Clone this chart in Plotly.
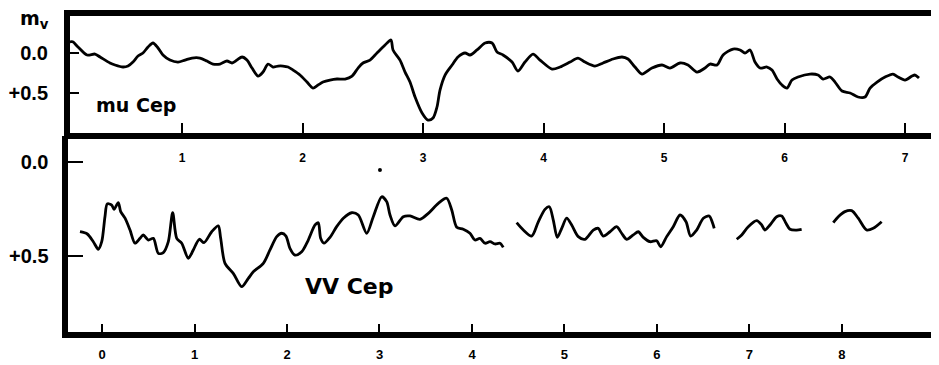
import plotly.graph_objects as go

# ---- mu Cep (top panel): x in top-axis units, y = m_v offset ----
mu_x = [0.07, 0.093, 0.137, 0.212, 0.278, 0.320, 0.402, 0.444, 0.510, 0.552, 0.593, 0.635, 0.676, 0.718,
        0.759, 0.801, 0.842, 0.900, 0.967, 1.025, 1.083, 1.149, 1.207, 1.257, 1.315, 1.373, 1.415, 1.456,
        1.498, 1.539, 1.581, 1.631, 1.672, 1.714, 1.755, 1.797, 1.838, 1.880, 1.921, 1.979, 2.037, 2.087,
        2.129, 2.170, 2.228, 2.286, 2.353, 2.411, 2.461, 2.502, 2.560, 2.618, 2.685, 2.734, 2.751, 2.809,
        2.851, 2.892, 2.934, 2.992, 3.041, 3.083, 3.116, 3.141, 3.183, 3.241, 3.290, 3.349, 3.390, 3.448,
        3.515, 3.573, 3.614, 3.664, 3.739, 3.788, 3.846, 3.913, 3.971, 4.071, 4.137, 4.220, 4.286, 4.344,
        4.427, 4.494, 4.577, 4.651, 4.701, 4.759, 4.817, 4.900, 4.983, 5.049, 5.133, 5.199, 5.274, 5.340,
        5.382, 5.440, 5.490, 5.573, 5.631, 5.672, 5.714, 5.755, 5.797, 5.855, 5.896, 5.938, 5.979, 6.021,
        6.062, 6.112, 6.212, 6.278, 6.320, 6.378, 6.419, 6.477, 6.544, 6.610, 6.668, 6.710, 6.768, 6.834,
        6.900, 6.942, 7.000, 7.058, 7.083, 7.116]
mu_y = [-0.14, -0.14, -0.075, 0.025, 0.013, 0.05, 0.125, 0.15, 0.175, 0.163, 0.113, 0.038, 0.0, -0.075,
        -0.125, -0.063, 0.025, 0.088, 0.113, 0.088, 0.063, 0.063, 0.1, 0.138, 0.138, 0.1, 0.125, 0.088,
        0.05, 0.088, 0.188, 0.288, 0.238, 0.138, 0.175, 0.163, 0.163, 0.175, 0.213, 0.275, 0.363, 0.438,
        0.4, 0.363, 0.338, 0.325, 0.325, 0.288, 0.188, 0.125, 0.088, 0.0, -0.1, -0.163, -0.038, 0.088,
        0.238, 0.363, 0.55, 0.75, 0.838, 0.813, 0.675, 0.463, 0.275, 0.15, 0.05, 0.0, 0.025, -0.038,
        -0.125, -0.125, -0.013, 0.025, 0.113, 0.225, 0.113, 0.013, 0.088, 0.2, 0.175, 0.113, 0.063, 0.113,
        0.163, 0.125, 0.075, 0.05, 0.075, 0.175, 0.263, 0.188, 0.15, 0.188, 0.125, 0.15, 0.238, 0.188,
        0.138, 0.15, 0.025, -0.05, -0.038, 0.0, -0.038, 0.113, 0.188, 0.175, 0.213, 0.325, 0.4, 0.438,
        0.338, 0.3, 0.263, 0.275, 0.325, 0.3, 0.363, 0.475, 0.5, 0.55, 0.55, 0.438, 0.363, 0.3,
        0.263, 0.3, 0.338, 0.288, 0.275, 0.313]

# ---- VV Cep (bottom panel): segments separated by None ----
vv_x = [-0.238, -0.159, -0.094, -0.040, -0.003, 0.032, 0.057, 0.105, 0.130, 0.176, 0.202, 0.249, 0.303,
        0.357, 0.411, 0.446, 0.501, 0.555, 0.609, 0.663, 0.717, 0.764, 0.808, 0.862, 0.933, 0.987, 1.052,
        1.103, 1.186, 1.257, 1.283, 1.330, 1.419, 1.510, 1.582, 1.636, 1.744, 1.816, 1.889, 1.943, 1.989,
        2.032, 2.086, 2.159, 2.230, 2.303, 2.338, 2.364, 2.400, 2.465, 2.537, 2.609, 2.699, 2.771, 2.862,
        2.933, 3.024, 3.078, 3.114, 3.168, 3.257, 3.330, 3.438, 3.528, 3.636, 3.726, 3.781, 3.835, 3.906,
        3.978, 4.032, 4.086, 4.141, 4.195, 4.249, 4.303, 4.338,
        None,
        4.483, 4.555, 4.645, 4.717, 4.789, 4.836, 4.879, 4.922, 4.970, 5.024, 5.078, 5.149, 5.222, 5.311,
        5.365, 5.419, 5.492, 5.564, 5.618, 5.672, 5.744, 5.798, 5.852, 5.924, 5.997, 6.040, 6.105, 6.176,
        6.249, 6.314, 6.364, 6.429, 6.501, 6.565, 6.602, 6.619,
        None,
        6.862, 6.916, 6.987, 7.078, 7.132, 7.168, 7.222, 7.294, 7.348, 7.395, 7.438, 7.510, 7.564,
        None,
        7.906, 7.960, 8.032, 8.105, 8.176, 8.267, 8.338, 8.429]
vv_y = [0.371, 0.383, 0.424, 0.464, 0.424, 0.291, 0.223, 0.229, 0.252, 0.216, 0.264, 0.299, 0.362,
        0.432, 0.406, 0.388, 0.415, 0.406, 0.486, 0.482, 0.424, 0.270, 0.406, 0.432, 0.512, 0.468, 0.411,
        0.429, 0.371, 0.340, 0.406, 0.539, 0.592, 0.663, 0.619, 0.584, 0.539, 0.468, 0.397, 0.379, 0.394,
        0.459, 0.495, 0.477, 0.415, 0.335, 0.323, 0.406, 0.432, 0.401, 0.344, 0.299, 0.270, 0.282, 0.379,
        0.291, 0.185, 0.211, 0.282, 0.340, 0.291, 0.287, 0.305, 0.273, 0.220, 0.193, 0.255, 0.347, 0.358,
        0.379, 0.415, 0.406, 0.432, 0.424, 0.436, 0.432, 0.454,
        None,
        0.323, 0.362, 0.394, 0.318, 0.252, 0.238, 0.309, 0.401, 0.353, 0.299, 0.335, 0.397, 0.411, 0.362,
        0.353, 0.394, 0.371, 0.344, 0.379, 0.411, 0.388, 0.371, 0.401, 0.424, 0.419, 0.451, 0.397, 0.344,
        0.282, 0.318, 0.394, 0.362, 0.299, 0.287, 0.326, 0.353,
        None,
        0.411, 0.388, 0.344, 0.312, 0.335, 0.362, 0.335, 0.291, 0.287, 0.326, 0.358, 0.362, 0.358,
        None,
        0.323, 0.291, 0.264, 0.259, 0.299, 0.362, 0.353, 0.318]

stray_x = [3.005]
stray_y = [0.043]

top_xticks = [1, 2, 3, 4, 5, 6, 7]
bot_xticks = [0, 1, 2, 3, 4, 5, 6, 7, 8]
y_tickvals = [0.0, 0.5]
y_ticktext = ["0.0", "+0.5"]

TICKFONT = "Liberation Sans, Arial, sans-serif"
LABFONT = "DejaVu Sans, Lato, sans-serif"

# Page has the browser's default 8px body margin; size the figure to fit the window.
OFF = 8
W, H = 939 - OFF, 365 - OFF


def px_x(page_x):
    return (page_x - OFF) / W


def px_y(page_y):
    return 1 - (page_y - OFF) / H


fig = go.Figure()
fig.add_trace(go.Scatter(x=mu_x, y=mu_y, mode="lines", xaxis="x", yaxis="y",
                         line=dict(color="black", width=2.8, shape="spline", smoothing=0.8),
                         hoverinfo="skip"))
fig.add_trace(go.Scatter(x=vv_x, y=vv_y, mode="lines", xaxis="x2", yaxis="y2", connectgaps=False,
                         line=dict(color="black", width=2.8, shape="spline", smoothing=0.8),
                         hoverinfo="skip"))
fig.add_trace(go.Scatter(x=stray_x, y=stray_y, mode="markers", xaxis="x2", yaxis="y2",
                         marker=dict(color="black", size=4), hoverinfo="skip"))

axis_common = dict(showgrid=False, zeroline=False, showline=True, linecolor="black",
                   ticks="inside", tickcolor="black")

fig.update_layout(
    width=W, height=H, margin=dict(l=0, r=0, t=0, b=0),
    paper_bgcolor="white", plot_bgcolor="white", showlegend=False,
    xaxis=dict(domain=[px_x(70), 1.0], range=[0.0705, 7.282], anchor="y", side="bottom",
               tickvals=top_xticks, ticklen=10, tickwidth=2, linewidth=6, mirror=True,
               tickfont=dict(family=TICKFONT, size=12, color="black", weight="bold"),
               ticklabelstandoff=9, **axis_common),
    yaxis=dict(domain=[px_y(133), px_y(15.5)], range=[1.0, -0.469], anchor="x",
               tickvals=y_tickvals, ticktext=y_ticktext, ticklen=9, tickwidth=2, linewidth=6,
               tickfont=dict(family=TICKFONT, size=20, color="black", weight="bold"),
               ticklabelstandoff=12, **axis_common),
    xaxis2=dict(domain=[px_x(67.5), 1.0], range=[-0.373, 9.049], anchor="y2", side="bottom",
                tickvals=bot_xticks, ticklen=8, tickwidth=2, linewidth=6,
                tickfont=dict(family=TICKFONT, size=13, color="black", weight="bold"),
                ticklabelstandoff=5, **axis_common),
    yaxis2=dict(domain=[px_y(332), px_y(136)], range=[0.904, -0.138], anchor="x2",
                tickvals=y_tickvals, ticktext=y_ticktext, ticklen=15, tickwidth=2, linewidth=6,
                tickfont=dict(family=TICKFONT, size=20, color="black", weight="bold"),
                ticklabelstandoff=9, **axis_common),
    annotations=[
        dict(text="m<sub>v</sub>", xref="paper", yref="paper", x=px_x(34), y=px_y(20),
             showarrow=False, font=dict(family=LABFONT, size=19, color="black", weight="bold"),
             xanchor="center", yanchor="middle"),
        dict(text="mu Cep", xref="x", yref="y", x=0.62, y=0.65, showarrow=False,
             font=dict(family=LABFONT, size=19, color="black", weight="bold"),
             xanchor="center", yanchor="middle"),
        dict(text="VV Cep", xref="x2", yref="y2", x=2.68, y=0.66, showarrow=False,
             font=dict(family=LABFONT, size=22, color="black", weight="bold"),
             xanchor="center", yanchor="middle"),
    ],
)

fig.write_html("out.html")
